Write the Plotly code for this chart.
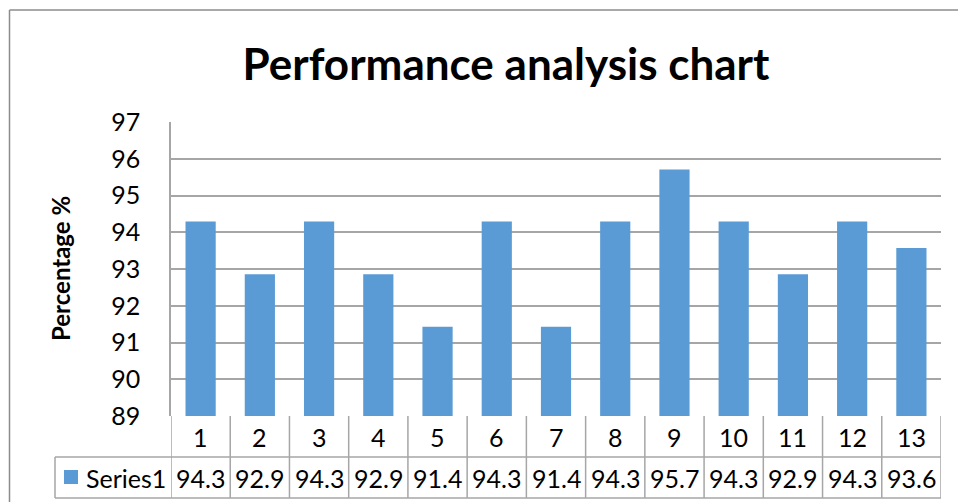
import plotly.graph_objects as go

categories = [str(i) for i in range(1, 14)]
values = [94.29, 92.86, 94.29, 92.86, 91.43, 94.29, 91.43, 94.29, 95.71, 94.29, 92.86, 94.29, 93.57]
series_name = "Series1"
title_text = "Performance analysis chart"
y_title = "Percentage %"
y_ticks = list(range(89, 98))

W, H = 958, 502
L, R, T, B = 171, 17, 122, 86
PW, PH = W - L - R, H - T - B
BAR = "#5B9BD5"
LINE = "#A6A6A6"
FONT = "Lato"

def px_x(px):
    return (px - L) / PW

def px_y(py):
    return (H - B - py) / PH

xs = list(range(1, 14))
fig = go.Figure(go.Bar(x=xs, y=values, marker=dict(color=BAR, line=dict(width=0)),
                       name=series_name, hoverinfo="x+y"))

shapes = []
annotations = []
row1_bot = px_y(457)
row2_bot = px_y(498)
# vertical lines of table
for i in range(14):
    xb = i + 0.5
    shapes.append(dict(type="line", xref="x", yref="paper", x0=xb, x1=xb, y0=0, y1=row2_bot,
                       line=dict(color=LINE, width=1.5)))
# horizontal lines
for yv in (row1_bot, row2_bot):
    shapes.append(dict(type="line", xref="paper", yref="paper", x0=px_x(55), x1=px_x(941),
                       y0=yv, y1=yv, line=dict(color=LINE, width=1.5)))
shapes.append(dict(type="line", xref="paper", yref="paper", x0=px_x(55), x1=px_x(55),
                   y0=row1_bot, y1=row2_bot, line=dict(color=LINE, width=1.5)))
# legend key square
shapes.append(dict(type="rect", xref="paper", yref="paper", x0=px_x(64), x1=px_x(78),
                   y0=px_y(484), y1=px_y(470), fillcolor=BAR, line=dict(width=0)))
# chart border (left and top)
shapes.append(dict(type="line", xref="paper", yref="paper", x0=px_x(9.5), x1=px_x(9.5),
                   y0=px_y(10), y1=px_y(510), line=dict(color="#8C8C8C", width=1.5)))
shapes.append(dict(type="line", xref="paper", yref="paper", x0=px_x(9.5), x1=px_x(970),
                   y0=px_y(10), y1=px_y(10), line=dict(color="#8C8C8C", width=1.5)))

TF = dict(family=FONT, size=25, color="#000")
for c, x, v in zip(categories, xs, values):
    annotations.append(dict(x=x, y=(0 + row1_bot) / 2, xref="x", yref="paper", text=c,
                            showarrow=False, xanchor="center", yanchor="middle", font=TF))
    annotations.append(dict(x=x, y=(row1_bot + row2_bot) / 2, xref="x", yref="paper",
                            text=f"{v:.1f}", showarrow=False, xanchor="center",
                            yanchor="middle", font=TF))
annotations.append(dict(x=px_x(84), y=(row1_bot + row2_bot) / 2, xref="paper", yref="paper",
                        text=series_name, showarrow=False, xanchor="left", yanchor="middle",
                        font=TF))
annotations.append(dict(x=px_x(60), y=0.5, xref="paper", yref="paper", text=f"<b>{y_title}</b>",
                        textangle=-90, showarrow=False, xanchor="center", yanchor="middle",
                        font=dict(family=FONT, size=24, color="#000")))

fig.update_layout(
    width=W, height=H,
    margin=dict(l=L, r=R, t=T, b=B, pad=0),
    paper_bgcolor="white", plot_bgcolor="white",
    showlegend=False,
    bargap=0.49,
    title=dict(text=f"<b>{title_text}</b>", x=506 / W, xref="container", xanchor="center",
               y=1 - 65 / H, yref="container", yanchor="middle",
               font=dict(family=FONT, size=44, color="#000")),
    xaxis=dict(range=[0.5, 13.5], showticklabels=False, showgrid=False, zeroline=False,
               showline=False, ticks=""),
    yaxis=dict(range=[89, 97], tickvals=y_ticks, ticktext=[str(t) for t in y_ticks],
               showgrid=True, gridcolor=LINE, gridwidth=1.5, zeroline=False,
               showline=True, linecolor=LINE, linewidth=1.5, ticks="",
               ticklabelstandoff=24,
               tickfont=dict(family=FONT, size=25, color="#000")),
    shapes=shapes, annotations=annotations,
)

fig.write_html("out.html", config={"displayModeBar": False},
               post_script="document.body.style.margin='0';document.body.style.overflow='hidden';")
